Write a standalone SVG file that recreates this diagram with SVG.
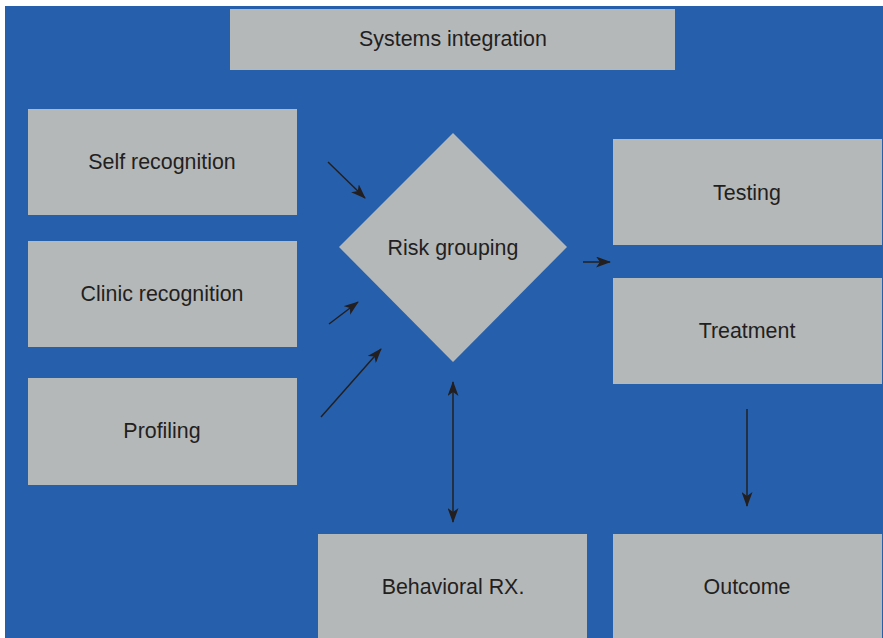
<svg xmlns="http://www.w3.org/2000/svg" width="883" height="638" viewBox="0 0 883 638">
<defs>
<style>
.box{fill:#B5B8B9}
.lbl{font-family:"Liberation Sans",Arial,sans-serif;font-size:21.4px;fill:#231F20;text-anchor:middle;dominant-baseline:central}
.con{stroke:#231F20;stroke-width:1.5;fill:none}
</style>
<marker id="ah" markerUnits="userSpaceOnUse" markerWidth="15" markerHeight="11" viewBox="0 0 15 11" refX="14" refY="5.5" orient="auto-start-reverse">
<path d="M0,0 L15,5.5 L0,11 L4,5.5 z" fill="#231F20"/>
</marker>
</defs>
<rect x="0" y="0" width="883" height="638" fill="#FFFFFF"/>
<rect x="5" y="6" width="878" height="632" fill="#2660AC"/>
<g id="systems-integration"><rect class="box" x="230" y="9" width="445" height="61"/><text class="lbl" x="453" y="39">Systems integration</text></g>
<g id="self-recognition"><rect class="box" x="28" y="109" width="269" height="106"/><text class="lbl" x="162" y="162">Self recognition</text></g>
<g id="clinic-recognition"><rect class="box" x="28" y="241" width="269" height="106"/><text class="lbl" x="162" y="294">Clinic recognition</text></g>
<g id="profiling"><rect class="box" x="28" y="378" width="269" height="107"/><text class="lbl" x="162" y="431">Profiling</text></g>
<g id="risk-grouping"><polygon class="box" points="453,133 567,247 453,362 339,247"/><text class="lbl" x="453" y="248">Risk grouping</text></g>
<g id="testing"><rect class="box" x="613" y="139" width="269" height="106"/><text class="lbl" x="747" y="193">Testing</text></g>
<g id="treatment"><rect class="box" x="613" y="278" width="269" height="106"/><text class="lbl" x="747" y="331">Treatment</text></g>
<g id="behavioral-rx"><rect class="box" x="318" y="534" width="269" height="104"/><text class="lbl" x="453" y="587">Behavioral RX.</text></g>
<g id="outcome"><rect class="box" x="613" y="534" width="269" height="104"/><text class="lbl" x="747" y="587">Outcome</text></g>
<g id="connectors">
<line class="con" x1="328" y1="162" x2="365" y2="198" marker-end="url(#ah)"/>
<line class="con" x1="329" y1="324" x2="358" y2="302" marker-end="url(#ah)"/>
<line class="con" x1="321" y1="417" x2="381" y2="349" marker-end="url(#ah)"/>
<line class="con" x1="583" y1="262" x2="610" y2="262" marker-end="url(#ah)"/>
<line class="con" x1="453" y1="382" x2="453" y2="522" marker-start="url(#ah)" marker-end="url(#ah)"/>
<line class="con" x1="747" y1="409" x2="747" y2="506" marker-end="url(#ah)"/>
</g>
</svg>
